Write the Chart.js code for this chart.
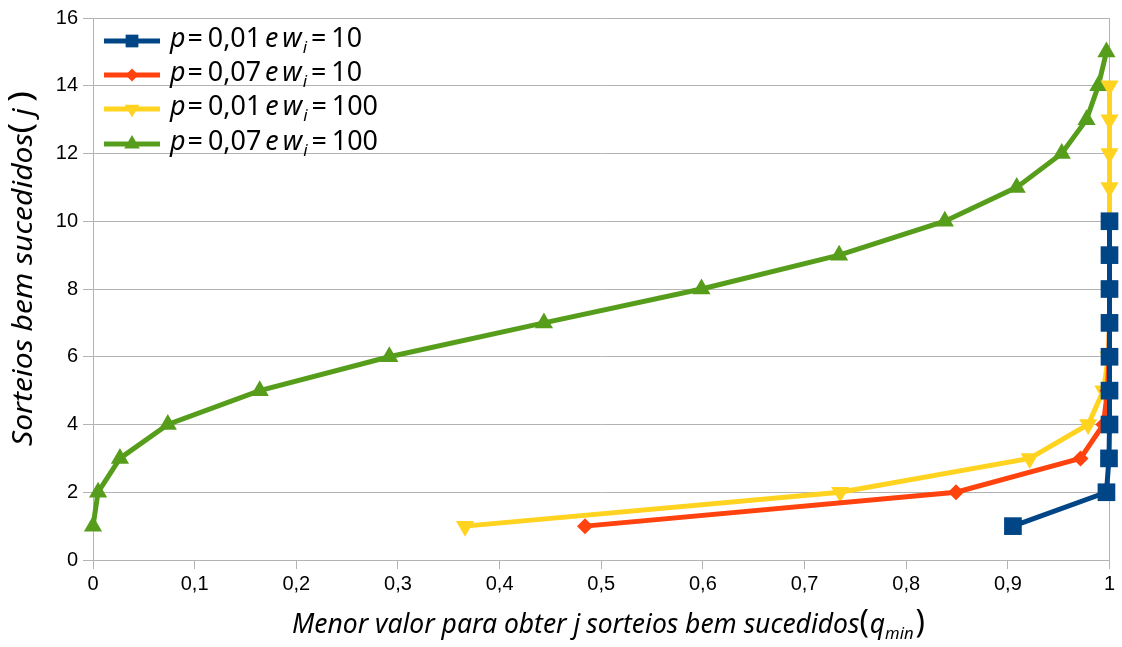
<!DOCTYPE html>
<html><head><meta charset="utf-8">
<script src="https://cdn.jsdelivr.net/npm/chart.js@4/dist/chart.umd.min.js"></script>
<style>html,body{margin:0;padding:0;background:#fff}canvas{display:block}</style>
</head><body>
<canvas id="c" width="1122" height="647"></canvas>
<script>
// Number of successful draws j (y values) and the minimal q per series (x values)
const jBlue   = [1, 2, 3, 4, 5, 6, 7, 8, 9, 10];
const qBlue   = [0.905, 0.997, 0.9995, 1, 1, 1, 1, 1, 1, 1];
const jRed    = [1, 2, 3, 4, 5, 6, 7, 8, 9, 10];
const qRed    = [0.484, 0.849, 0.9715, 0.994, 0.998, 0.9995, 1, 1, 1, 1];
const jYellow = [1, 2, 3, 4, 5, 6, 7, 8, 9, 10, 11, 12, 13, 14];
const qYellow = [0.366, 0.735, 0.9215, 0.979, 0.994, 0.999, 1, 1, 1, 1, 1, 1, 1, 1];
const jGreen  = [1, 2, 3, 4, 5, 6, 7, 8, 9, 10, 11, 12, 13, 14, 15];
const qGreen  = [0, 0.005, 0.0265, 0.0736, 0.164, 0.2915, 0.4436, 0.5986, 0.734, 0.838, 0.9087, 0.953, 0.9774, 0.989, 0.997];

// Legend entries: p, w_i
const legendP = ['0,01', '0,07', '0,01', '0,07'];
const legendW = ['10', '10', '100', '100'];
const xTickValues = [0, 0.1, 0.2, 0.3, 0.4, 0.5, 0.6, 0.7, 0.8, 0.9, 1];

const COLORS = ['#004586', '#ff420e', '#ffd320', '#579d1c'];
const GRID = '#b3b3b3';

function pts(qs, js) { return qs.map((q, i) => ({ x: q, y: js[i] })); }

const series = [
  { data: pts(qBlue, jBlue),     style: 'rect',     radius: 12.5, rot: 0 },
  { data: pts(qRed, jRed),       style: 'rectRot',  radius: 8,    rot: 0 },
  { data: pts(qYellow, jYellow), style: 'triangle', radius: 10.5, rot: 180 },
  { data: pts(qGreen, jGreen),   style: 'triangle', radius: 10.5, rot: 0 }
];

const datasets = series.map((s, i) => ({
  label: 'p=' + legendP[i] + ' e w_i=' + legendW[i],
  data: s.data,
  borderColor: COLORS[i],
  backgroundColor: COLORS[i],
  borderWidth: 5,
  pointStyle: s.style,
  pointRadius: s.radius,
  pointHoverRadius: s.radius,
  pointRotation: s.rot,
  pointBorderWidth: 0,
  tension: 0,
  clip: false
}));

const MATH_FONT = '"Noto Sans", "Open Sans", sans-serif';

// Draw a run of text pieces, horizontally squeezed to a target width
function drawRuns(ctx, runs, x0, baseline, size, targetWidth) {
  ctx.save();
  let total = 0;
  const widths = runs.map(r => {
    ctx.font = (r.it ? 'italic ' : '') + Math.round(size * (r.sub ? 0.62 : 1) * (r.big || 1)) + 'px ' + MATH_FONT;
    const w = ctx.measureText(r.t).width;
    total += w + (r.gap || 0);
    return w;
  });
  const sx = targetWidth ? targetWidth / total : 1;
  ctx.translate(x0, baseline);
  ctx.scale(sx, 1);
  let x = 0;
  runs.forEach((r, i) => {
    ctx.font = (r.it ? 'italic ' : '') + Math.round(size * (r.sub ? 0.62 : 1) * (r.big || 1)) + 'px ' + MATH_FONT;
    ctx.fillStyle = '#000';
    ctx.textBaseline = 'alphabetic';
    ctx.textAlign = 'left';
    ctx.fillText(r.t, x, r.sub ? size * 0.22 : 0);
    x += widths[i] + (r.gap || 0);
  });
  ctx.restore();
}

function drawMarker(ctx, style, x, y, r, rot, color) {
  ctx.save();
  ctx.fillStyle = color;
  ctx.beginPath();
  if (style === 'rect') {
    const s = Math.SQRT1_2 * r;
    ctx.rect(x - s, y - s, 2 * s, 2 * s);
  } else if (style === 'rectRot') {
    ctx.moveTo(x, y - r); ctx.lineTo(x + r, y); ctx.lineTo(x, y + r); ctx.lineTo(x - r, y);
  } else {
    const d = rot ? -1 : 1;
    ctx.moveTo(x, y - d * r);
    ctx.lineTo(x + r * 0.866, y + d * r * 0.5);
    ctx.lineTo(x - r * 0.866, y + d * r * 0.5);
  }
  ctx.closePath();
  ctx.fill();
  ctx.restore();
}

const annotations = {
  id: 'annotations',
  afterDraw(chart) {
    const ctx = chart.ctx;
    // Legend
    const rowsY = [41, 75, 109, 144];
    const legendWidths = [192, 192, 208, 208];
    const legendR = [9, 6.5, 8.5, 9];
    rowsY.forEach((y, i) => {
      ctx.save();
      ctx.strokeStyle = COLORS[i];
      ctx.lineWidth = 5;
      ctx.beginPath();
      ctx.moveTo(104, y); ctx.lineTo(160, y);
      ctx.stroke();
      ctx.restore();
      drawMarker(ctx, series[i].style, 132, y, legendR[i], series[i].rot, COLORS[i]);
      drawRuns(ctx, [
        { t: 'p', it: true, gap: 2 },
        { t: '=', gap: 5 },
        { t: legendP[i], gap: 4 },
        { t: 'e', it: true, gap: 4 },
        { t: 'w', it: true, gap: 1 },
        { t: 'i', it: true, sub: true, gap: 4 },
        { t: '=', gap: 5 },
        { t: legendW[i] }
      ], 170, y + 6, 27, legendWidths[i]);
    });

    // X axis title
    drawRuns(ctx, [
      { t: 'Menor valor para obter ', it: true },
      { t: 'j', it: true, gap: 6 },
      { t: 'sorteios bem sucedidos', it: true },
      { t: '(', big: 1.2, gap: 1 },
      { t: 'q', it: true },
      { t: 'min', it: true, sub: true, gap: 2 },
      { t: ')', big: 1.2 }
    ], 292, 633, 27, 633);

    // Y axis title
    ctx.save();
    ctx.translate(32, 446);
    ctx.rotate(-Math.PI / 2);
    drawRuns(ctx, [
      { t: 'Sorteios bem sucedidos', it: true },
      { t: '(', big: 1.2, gap: 6 },
      { t: 'j', it: true, gap: 6 },
      { t: ')', big: 1.2 }
    ], 0, 0, 27, 355);
    ctx.restore();
  }
};

new Chart(document.getElementById('c'), {
  type: 'line',
  data: { datasets },
  plugins: [annotations],
  options: {
    responsive: false,
    devicePixelRatio: 1,
    animation: false,
    events: [],
    layout: { padding: { top: 18, right: 10, left: 0, bottom: 0 } },
    plugins: { legend: { display: false }, tooltip: { enabled: false } },
    scales: {
      x: {
        type: 'linear',
        min: 0, max: 1,
        afterFit(scale) { scale.height = 87; scale.paddingLeft = 0; scale.paddingRight = 0; },
        afterBuildTicks(scale) { scale.ticks = xTickValues.map(v => ({ value: v })); },
        ticks: {
          color: '#000',
          font: { family: '"Liberation Sans", Arial, sans-serif', size: 20 },
          padding: 3,
          maxRotation: 0,
          autoSkip: false,
          callback: v => (v === 0 ? '0' : v === 1 ? '1' : v.toFixed(1).replace('.', ','))
        },
        grid: {
          color: ctx => (ctx.tick && ctx.tick.value === 1 ? GRID : 'rgba(0,0,0,0)'),
          tickColor: GRID,
          tickLength: 9,
          lineWidth: 1
        },
        border: { display: true, color: GRID, width: 1 }
      },
      y: {
        type: 'linear',
        min: 0, max: 16,
        afterFit(scale) { scale.width = 93; scale.paddingTop = 0; scale.paddingBottom = 0; },
        ticks: {
          stepSize: 2,
          color: '#000',
          font: { family: '"Liberation Sans", Arial, sans-serif', size: 20 },
          padding: 5
        },
        grid: { color: GRID, tickColor: GRID, tickLength: 10, lineWidth: 1 },
        border: { display: true, color: GRID, width: 1 }
      }
    }
  }
});
</script>
</body></html>
